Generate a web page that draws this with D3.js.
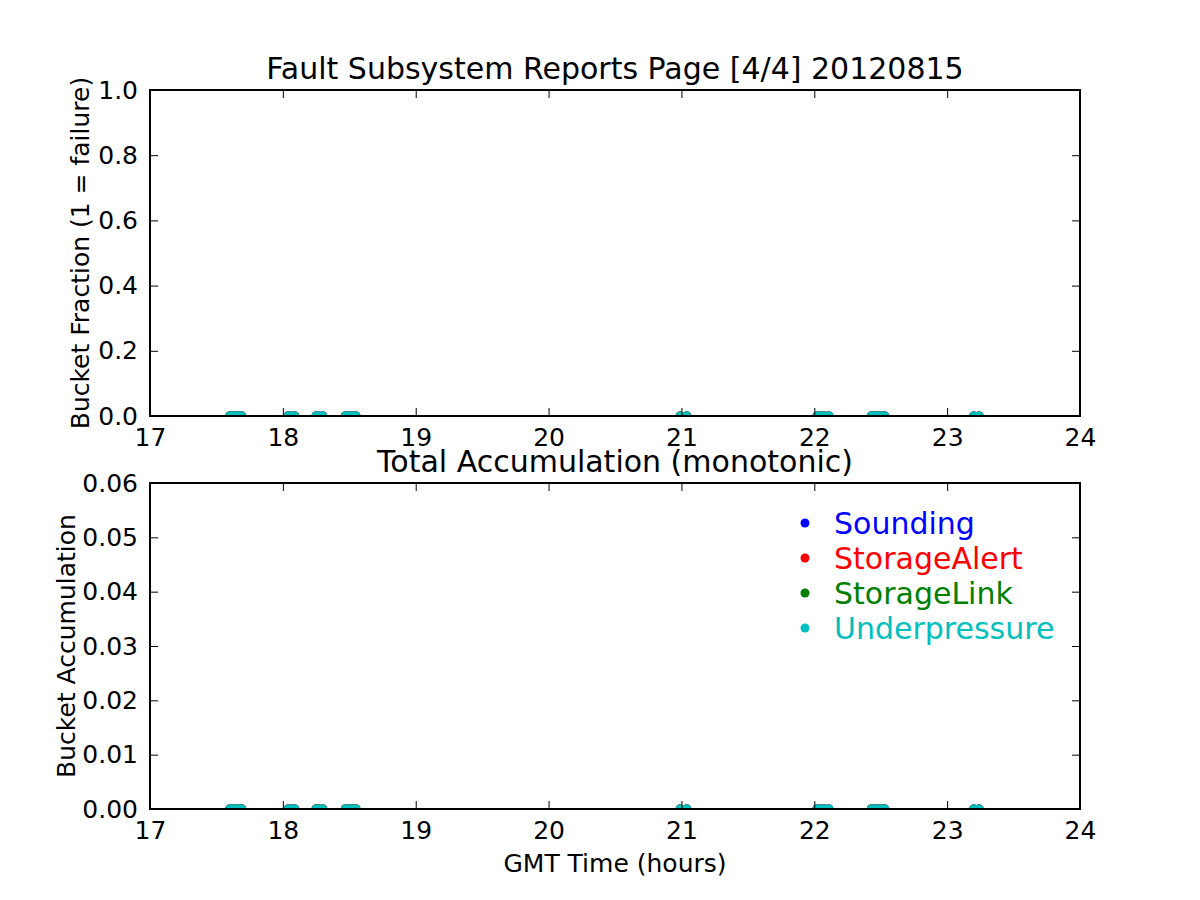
<!DOCTYPE html>
<html><head><meta charset="utf-8">
<script src="https://cdn.jsdelivr.net/npm/d3@7"></script>
<style>body{margin:0;background:#fff;} text{font-family:"DejaVu Sans",sans-serif;}</style>
</head><body>
<svg id="c" width="1200" height="900"></svg>
<script>
// ---- data ----
const seriesNames = ["Sounding","StorageAlert","StorageLink","Underpressure"];
const seriesColors = ["#0000ff","#ff0000","#008000","#00bfbf"];
const times = [17.60,17.62,17.64,17.66,17.68,17.69,
  18.04,18.06,18.09,
  18.25,18.27,18.30,
  18.47,18.49,18.51,18.53,18.55,
  20.99,21.04,
  22.02,22.04,22.06,22.08,22.11,
  22.43,22.45,22.47,22.49,22.51,22.53,
  23.20,23.24];
const fractionValues = {
  Sounding: times.map(()=>0), StorageAlert: times.map(()=>0),
  StorageLink: times.map(()=>0), Underpressure: times.map(()=>0)
};
const accumValues = {
  Sounding: times.map(()=>0), StorageAlert: times.map(()=>0),
  StorageLink: times.map(()=>0), Underpressure: times.map(()=>0)
};
const xTicks = [17,18,19,20,21,22,23,24];
const yTicksTop = [0,0.2,0.4,0.6,0.8,1.0];
const yTicksBottom = [0,0.01,0.02,0.03,0.04,0.05,0.06];
const mainTitle = "Fault Subsystem Reports Page [4/4] 20120815";
const subTitle = "Total Accumulation (monotonic)";

const svg = d3.select("#c");
const L=150, R=1080;
const x = d3.scaleLinear().domain([17,24]).range([L,R]);

function panel(id, top, bottom, yDomain, yTicks, fmt, values, title, ylabel, ylabelX){
  const y = d3.scaleLinear().domain(yDomain).range([bottom, top]);
  const g = svg.append("g");
  g.append("clipPath").attr("id",id).append("rect")
    .attr("x",L).attr("y",top).attr("width",R-L).attr("height",bottom-top);
  // points
  const pg = g.append("g").attr("clip-path",`url(#${id})`);
  seriesNames.forEach((s,i)=>{
    pg.selectAll(null).data(times.map((t,j)=>[t,values[s][j]])).enter()
      .append("circle").attr("cx",d=>x(d[0])).attr("cy",d=>y(d[1]))
      .attr("r",4.5).attr("fill",seriesColors[i]);
  });
  const tf = t=>t.toString();
  // axes
  const ab = g.append("g").attr("transform",`translate(0,${bottom})`)
    .call(d3.axisBottom(x).tickValues(xTicks).tickFormat(d3.format("d")).tickSizeInner(-8).tickSizeOuter(0).tickPadding(12));
  const at = g.append("g").attr("transform",`translate(0,${top})`)
    .call(d3.axisTop(x).tickValues(xTicks).tickFormat("").tickSizeInner(-8).tickSizeOuter(0));
  const al = g.append("g").attr("transform",`translate(${L},0)`)
    .call(d3.axisLeft(y).tickValues(yTicks).tickFormat(d3.format(fmt)).tickSizeInner(-8).tickSizeOuter(0).tickPadding(12));
  const ar = g.append("g").attr("transform",`translate(${R},0)`)
    .call(d3.axisRight(y).tickValues(yTicks).tickFormat("").tickSizeInner(-8).tickSizeOuter(0));
  [ab,at,al,ar].forEach(a=>{
    a.select(".domain").remove();
    a.selectAll(".tick line").attr("stroke","#000").attr("stroke-width",1);
    a.selectAll(".tick text").attr("font-size",25).attr("fill","#000").style("font-family","DejaVu Sans");
  });
  g.append("rect").attr("x",L).attr("y",top).attr("width",R-L).attr("height",bottom-top)
    .attr("fill","none").attr("stroke","#000").attr("stroke-width",2);
  g.append("text").attr("x",(L+R)/2).attr("y",top-11).attr("text-anchor","middle")
    .attr("font-size",30).text(title);
  g.append("text").attr("transform",`translate(${ylabelX},${(top+bottom)/2}) rotate(-90)`)
    .attr("text-anchor","middle").attr("dy","0.35em").attr("font-size",25).text(ylabel);
  return y;
}

panel("clipTop",90,416,[0,1],yTicksTop,".1f",fractionValues,mainTitle,"Bucket Fraction (1 = failure)",80);
panel("clipBot",483,809,[0,0.06],yTicksBottom,".2f",accumValues,subTitle,"Bucket Accumulation",66);

svg.append("text").attr("x",(L+R)/2).attr("y",872).attr("text-anchor","middle")
  .attr("font-size",25).text("GMT Time (hours)");

// legend
const lg = svg.append("g");
seriesNames.forEach((s,i)=>{
  const cy = 523 + i*35;
  lg.append("circle").attr("cx",805).attr("cy",cy).attr("r",4.5).attr("fill",seriesColors[i]);
  lg.append("text").attr("x",834).attr("y",cy).attr("dy","0.35em").attr("font-size",30)
    .attr("fill",seriesColors[i]).text(s);
});
</script>
</body></html>
